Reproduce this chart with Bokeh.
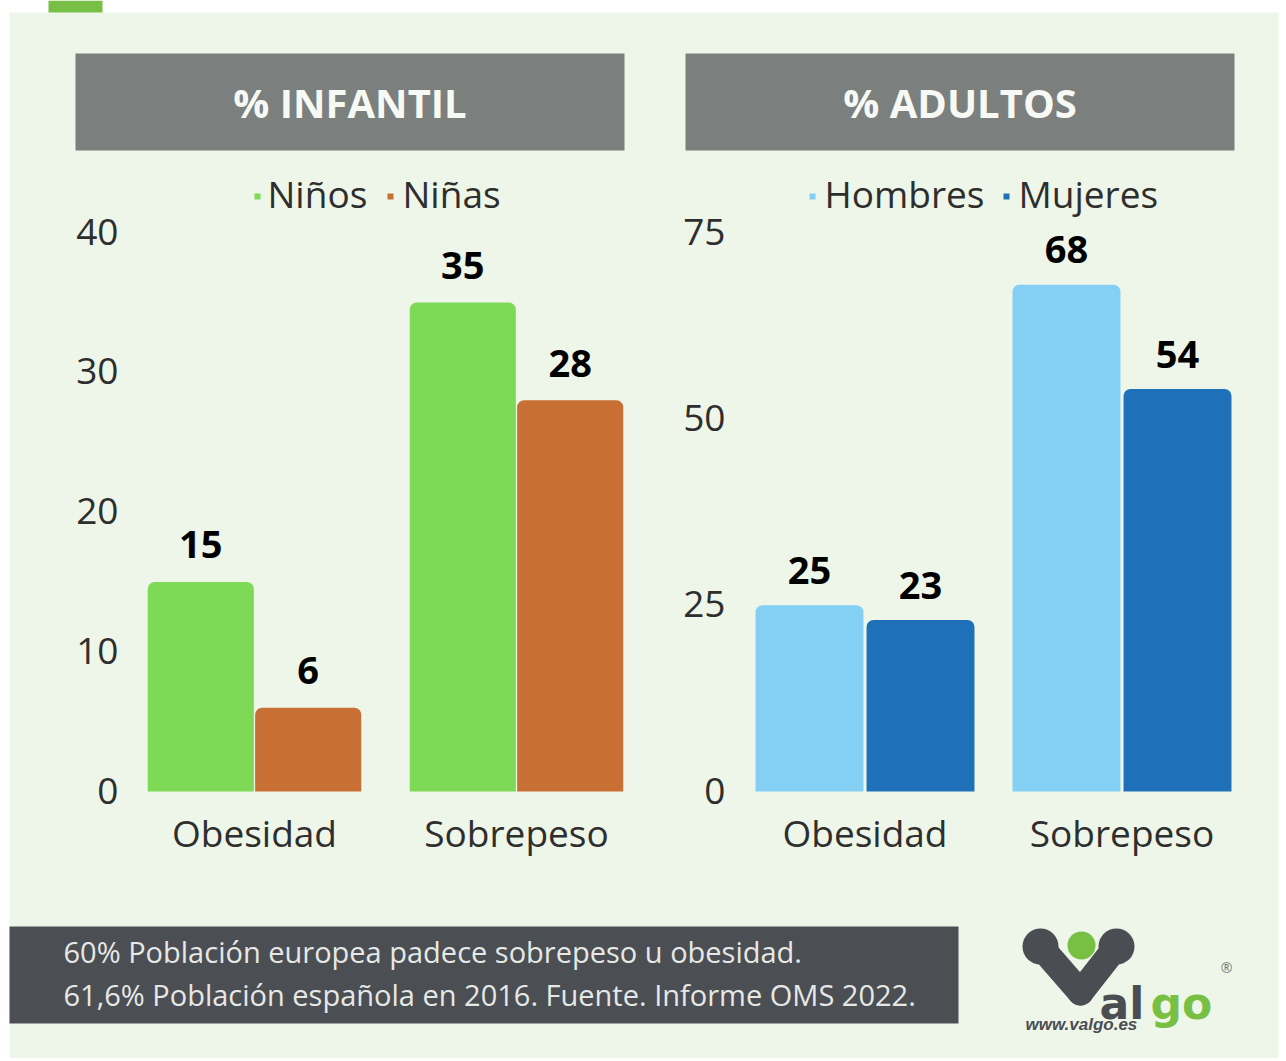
from bokeh.plotting import figure
from bokeh.models import Range1d, ColumnDataSource
from bokeh.core.properties import value
from bokeh.embed import file_html
from bokeh.resources import INLINE

# ---------------- data ----------------
categories = ["Obesidad", "Sobrepeso"]
infantil_series = ["Niños", "Niñas"]
ninos = [15, 35]
ninas = [6, 28]
infantil_ticks = [0, 10, 20, 30, 40]
adultos_series = ["Hombres", "Mujeres"]
hombres = [25, 68]
mujeres = [23, 54]
adultos_ticks = [0, 25, 50, 75]
panel_titles = ["% INFANTIL", "% ADULTOS"]
footer_lines = ["60% Población europea padece sobrepeso u obesidad.",
                "61,6% Población española en 2016. Fuente. Informe OMS 2022."]

# ---------------- layout ----------------
W, H = 1282, 1058
OX, OY = 0, 0
FONT = value("Open Sans")
BG = "#EEF6E9"
TXT = "#2E2E2E"

p = figure(width=W, height=H, output_backend="svg", toolbar_location=None,
           x_range=Range1d(OX, OX + W), y_range=Range1d(OY + H, OY),
           x_axis_type=None, y_axis_type=None, min_border=0)
p.grid.visible = False
p.outline_line_color = None
p.background_fill_color = "white"
p.border_fill_color = "white"


def x_range_for(v0, px0, v1, px1):
    k = (px1 - px0) / (v1 - v0)
    return Range1d(v0 + (OX - px0) / k, v0 + (OX + W - px0) / k)


def y_range_for(v0, px0, v1, px1):
    k = (px1 - px0) / (v1 - v0)
    return Range1d(v0 + (OY + H - px0) / k, v0 + (OY - px0) / k)


p.extra_x_ranges = {
    "xinf": x_range_for(0, 254, 1, 516),
    "xad": x_range_for(0, 864.5, 1, 1121.5),
}
p.extra_y_ranges = {
    "yinf": y_range_for(0, 791, infantil_ticks[-1], 232),
    "yad": y_range_for(0, 791, adultos_ticks[-1], 232),
}

# background
p.quad(left=9, right=1278, top=12, bottom=OY + H, fill_color=BG, line_color=None)
p.quad(left=48, right=102, top=OY, bottom=12, fill_color="#78C045", line_color=None)

# headers
hdr_left = [75, 685]
hdr_right = [624, 1234]
p.quad(left=hdr_left, right=hdr_right, top=53, bottom=150, fill_color="#7B7F7E", line_color=None)
p.text(x=[(a + b) / 2 for a, b in zip(hdr_left, hdr_right)], y=[102, 102], text=panel_titles,
       text_font=FONT, text_font_style="bold", text_font_size="40px", text_color="#F7F9F4",
       text_align="center", text_baseline="middle")


def panel(xr, yr, series, s1, s2, colors, ticks, tick_x, offset, width, legend_pos, lbl_off):
    idx = list(range(len(categories)))
    for vals, off, col in [(s1, -offset, colors[0]), (s2, offset, colors[1])]:
        src = ColumnDataSource(dict(x=[i + off for i in idx], top=vals,
                                    lbl=[str(v) for v in vals]))
        p.vbar(x="x", top="top", bottom=0, width=width, source=src, fill_color=col,
               line_color=None, border_radius=(7, 7, 0, 0),
               x_range_name=xr, y_range_name=yr)
        p.text(x="x", y="top", text="lbl", source=src, x_range_name=xr, y_range_name=yr,
               y_offset=-lbl_off, text_font=FONT, text_font_style="bold",
               text_font_size="38px", text_color="black", text_align="center",
               text_baseline="middle")
    # tick labels
    p.text(x=[tick_x] * len(ticks), y=ticks, text=[str(t) for t in ticks], y_range_name=yr,
           y_offset=-1, text_font=FONT, text_font_size="37px", text_color=TXT,
           text_align="right", text_baseline="middle")
    # category labels
    p.text(x=idx, y=[0] * len(idx), text=categories, x_range_name=xr, y_range_name=yr,
           y_offset=41, text_font=FONT, text_font_size="37px", text_color=TXT,
           text_align="center", text_baseline="middle")
    # legend
    for (sq_x, tx), name, col in zip(legend_pos, series, colors):
        p.scatter(x=[sq_x], y=[196], marker="square", size=6, fill_color=col, line_color=None)
        p.text(x=[tx], y=[193], text=[name], text_font=FONT, text_font_size="37px",
               text_color=TXT, text_align="left", text_baseline="middle")


panel("xinf", "yinf", infantil_series, ninos, ninas, ["#7ED957", "#C86F33"],
      infantil_ticks, 118, 0.205, 0.405, [(257, 267), (390, 402)], 37)
panel("xad", "yad", adultos_series, hombres, mujeres, ["#84D0F4", "#1E70B8"],
      adultos_ticks, 725, 0.216, 0.42, [(812, 824), (1006, 1018)], 35)

# footer
p.quad(left=9, right=958, top=926, bottom=1023, fill_color="#4B4E53", line_color=None)
p.text(x=[63, 63], y=[951, 994], text=footer_lines, text_font=FONT, text_font_size="29px",
       text_color="#E6E8E6", text_align="left", text_baseline="middle")

# logo (approximation)
LOGO_DARK = "#4A4D52"
LOGO_GREEN = "#77C043"
p.multi_line(xs=[[1040, 1080], [1116, 1080]], ys=[[946, 992], [946, 992]],
             line_width=26, line_cap="round", line_color=LOGO_DARK)
p.circle(x=[1040, 1116], y=[946, 946], radius=18, fill_color=LOGO_DARK, line_color=None)
p.circle(x=[1081], y=[945], radius=14, fill_color=LOGO_GREEN, line_color=None)
p.text(x=[1099], y=[1003], text=["al"], text_font=value("DejaVu Sans"), text_font_style="bold",
       text_font_size="44px", text_color=LOGO_DARK, text_align="left", text_baseline="alphabetic")
p.text(x=[1150], y=[1003], text=["go"], text_font=value("DejaVu Sans"), text_font_style="bold",
       text_font_size="44px", text_color=LOGO_GREEN, text_align="left", text_baseline="alphabetic")
p.text(x=[1226], y=[967], text=["®"], text_font=FONT, text_font_size="14px",
       text_color="#777777", text_align="center", text_baseline="middle")
p.text(x=[1025], y=[1024], text=["www.valgo.es"], text_font=value("Liberation Sans"),
       text_font_style="bold italic", text_font_size="17px", text_color=LOGO_DARK,
       text_align="left", text_baseline="middle")

open("out.html", "w").write(file_html(p, INLINE))
